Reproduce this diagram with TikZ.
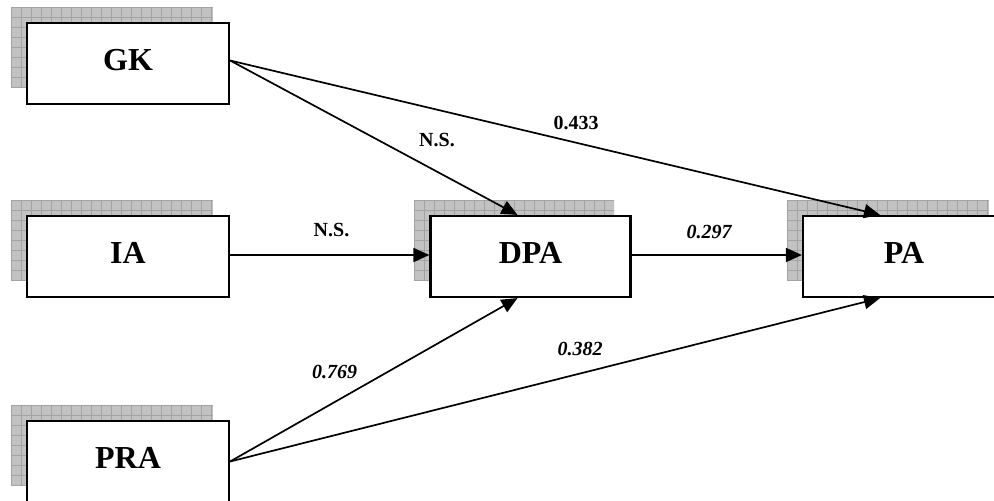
\documentclass[tikz,border=0pt]{standalone}
\usepackage{fontspec}
\setmainfont{Liberation Serif}
\usetikzlibrary{arrows.meta}
\begin{document}
\begin{tikzpicture}[x=1pt,y=-1pt,
  box/.style={draw=black, line width=2.2pt, fill=white, rectangle,
    minimum width=202pt, minimum height=81pt, inner sep=0pt,
    font=\fontsize{32}{32}\selectfont\bfseries},
  shadefill/.style={fill=gray!48},
  shadegrid/.style={draw=gray!72, line width=0.7pt},
  conn/.style={line width=1.7pt, -{Triangle[length=16pt,width=14pt]}},
  lab/.style={inner sep=0pt, font=\fontsize{20}{20}\selectfont\bfseries},
  ilab/.style={inner sep=0pt, font=\fontsize{20}{20}\selectfont\bfseries\itshape}]
\useasboundingbox (0,0) rectangle (994,501);
\clip (0,0) rectangle (994,501);
% shadows
\foreach \a/\b/\w in {11/7/202, 11/200/202, 414/200/200, 787/200/202, 11/405/202} {
  \begin{scope}
    \clip (\a,\b) rectangle ++(\w,81);
    \fill[shadefill] (\a,\b) rectangle ++(\w,81);
    \foreach \i in {0,10,...,200} {\draw[shadegrid] (\a+\i,\b) -- ++(0,81);}
    \foreach \j in {0,10,...,80} {\draw[shadegrid] (\a,\b+\j) -- ++(\w,0);}
  \end{scope}
}
% boxes
\node[box] (GK)  at (128,63.5)  {\raisebox{8pt}{GK}};
\node[box] (IA)  at (128,256.5) {\raisebox{8pt}{IA}};
\node[box, minimum width=200pt] (DPA) at (530.5,256.5) {\raisebox{8pt}{DPA}};
\node[box] (PA)  at (904,256.5) {\raisebox{8pt}{PA}};
\node[box] (PRA) at (128,461.5) {\raisebox{8pt}{PRA}};
% connectors
\draw[conn] ([yshift=3pt]GK.east) -- ([xshift=-13pt]DPA.north);
\draw[conn] ([yshift=3pt]GK.east) -- ([xshift=-24pt]PA.north);
\draw[conn] (IA.east |- 0,255) -- (DPA.west |- 0,255);
\draw[conn] (DPA.east |- 0,255) -- (PA.west |- 0,255);
\draw[conn] (PRA.east) -- ([xshift=-13pt]DPA.south);
\draw[conn] (PRA.east) -- ([xshift=-24pt]PA.south);
% labels
\node[lab]  (l1) at (437,140)   {N.S.};
\node[lab]  (l2) at (331.5,230) {N.S.};
\node[lab]  (l3) at (576,122.5) {0.433};
\node[ilab] (l4) at (709,231.5) {0.297};
\node[ilab] (l5) at (580,348.5) {0.382};
\node[ilab] (l6) at (334.5,372) {0.769};
\end{tikzpicture}
\end{document}
